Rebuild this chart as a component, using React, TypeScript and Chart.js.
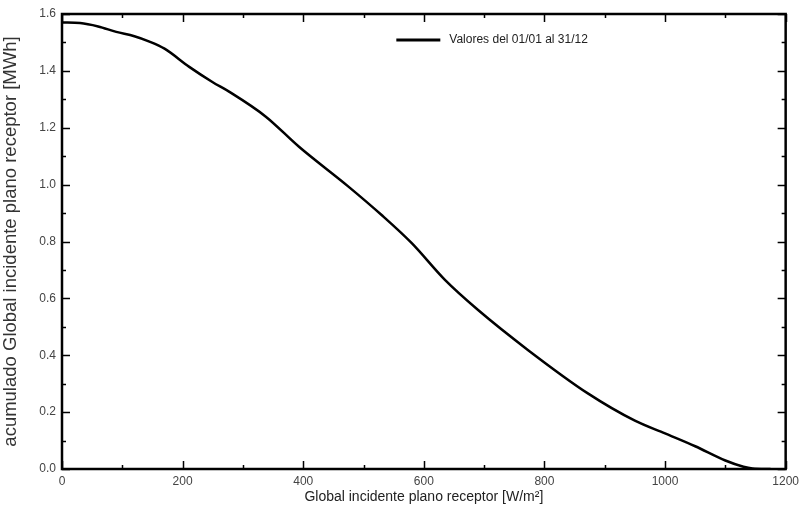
import React, { useEffect, useRef } from "react";
import { Chart, registerables } from "chart.js";

Chart.register(...registerables);

const irradiance = [0, 30, 60, 90, 120, 145, 170, 211, 250, 277, 338, 393, 475, 530, 580, 635, 690, 773, 872, 950, 1000, 1050, 1100, 1130, 1145, 1175];
const accumulated = [1.57, 1.568, 1.556, 1.537, 1.522, 1.503, 1.478, 1.414, 1.36, 1.327, 1.239, 1.133, 0.993, 0.893, 0.794, 0.665, 0.559, 0.418, 0.266, 0.17, 0.125, 0.08, 0.03, 0.008, 0.002, 0];
const seriesLabel = "Valores del 01/01 al 31/12";
const xTitle = "Global incidente plano receptor [W/m²]";
const yTitle = "acumulado Global incidente plano receptor [MWh]";

const framePlugin = {
  id: "frame",
  afterDraw(chart: any) {
    const { ctx, chartArea: a, scales } = chart;
    const xs = scales.x;
    const ys = scales.y;
    ctx.save();
    ctx.strokeStyle = "#000";
    ctx.lineWidth = 1.5;
    ctx.beginPath();
    for (let v = 0; v <= 1200; v += 100) {
      const px = Math.round(xs.getPixelForValue(v)) + 0.5;
      const len = v % 200 === 0 ? 8 : 4;
      ctx.moveTo(px, a.bottom);
      ctx.lineTo(px, a.bottom - len);
      ctx.moveTo(px, a.top);
      ctx.lineTo(px, a.top + len);
    }
    for (let i = 0; i <= 16; i++) {
      const v = i / 10;
      const py = Math.round(ys.getPixelForValue(v)) + 0.5;
      const len = i % 2 === 0 ? 8 : 4;
      ctx.moveTo(a.left, py);
      ctx.lineTo(a.left + len, py);
      ctx.moveTo(a.right, py);
      ctx.lineTo(a.right - len, py);
    }
    ctx.stroke();
    ctx.lineWidth = 2.5;
    ctx.strokeRect(a.left, a.top, a.right - a.left, a.bottom - a.top);
    const lx = a.left + (a.right - a.left) * 0.462;
    const ly = a.top + 26;
    ctx.lineWidth = 3;
    ctx.beginPath();
    ctx.moveTo(lx, ly);
    ctx.lineTo(lx + 44, ly);
    ctx.stroke();
    ctx.fillStyle = "#222";
    ctx.font = "12px 'Liberation Sans', Arial, sans-serif";
    ctx.textBaseline = "middle";
    ctx.textAlign = "left";
    ctx.fillText(seriesLabel, lx + 53, ly);
    ctx.restore();
  },
};

export default function App() {
  const ref = useRef<HTMLCanvasElement>(null);
  useEffect(() => {
    if (!ref.current) return;
    const data = irradiance.map((x, i) => ({ x, y: accumulated[i] }));
    const chart = new Chart(ref.current, {
      type: "line",
      data: {
        datasets: [
          {
            label: seriesLabel,
            data,
            borderColor: "#000",
            borderWidth: 2.5,
            pointRadius: 0,
            cubicInterpolationMode: "monotone",
            fill: false,
          },
        ],
      },
      options: {
        animation: false,
        responsive: false,
        maintainAspectRatio: false,
        layout: { padding: { top: 14, right: 15, left: 0, bottom: 0 } },
        plugins: { legend: { display: false }, tooltip: { enabled: false } },
        scales: {
          x: {
            type: "linear",
            min: 0,
            max: 1200,
            grid: { display: false, drawTicks: false, tickLength: 0 },
            border: { display: false },
            ticks: {
              stepSize: 200,
              padding: 5,
              color: "#444",
              font: { family: "'Liberation Sans', Arial, sans-serif", size: 12 },
              maxRotation: 0,
              callback: (v: any) => String(v),
            },
            title: {
              display: true,
              text: xTitle,
              color: "#222",
              font: { family: "'Liberation Sans', Arial, sans-serif", size: 14 },
              padding: { top: 0, bottom: 6 },
            },
            afterFit(scale: any) {
              scale.height = 43;
            },
          },
          y: {
            type: "linear",
            min: 0,
            max: 1.6,
            grid: { display: false, drawTicks: false, tickLength: 0 },
            border: { display: false },
            ticks: {
              stepSize: 0.2,
              padding: 6,
              color: "#444",
              font: { family: "'Liberation Sans', Arial, sans-serif", size: 12 },
              callback: (v: any) => Number(v).toFixed(1),
            },
            title: {
              display: true,
              text: yTitle,
              color: "#333",
              font: { family: "'Liberation Sans', Arial, sans-serif", size: 18.5 },
              padding: { top: 0, bottom: 0 },
            },
            afterFit(scale: any) {
              scale.width = 62;
            },
          },
        },
      },
      plugins: [framePlugin],
    });
    return () => chart.destroy();
  }, []);
  return (
    <div style={{ position: "absolute", left: 0, top: 0, width: 804, height: 512, background: "#fff" }}>
      <canvas ref={ref} width={804} height={512} style={{ display: "block" }} />
    </div>
  );
}
